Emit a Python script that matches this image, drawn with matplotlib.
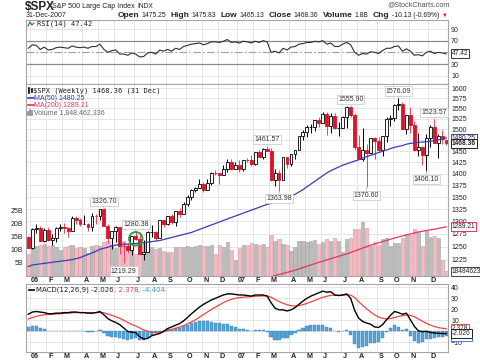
import numpy as np
import pandas as pd
import matplotlib
matplotlib.use("Agg")
import matplotlib.pyplot as plt
from matplotlib.lines import Line2D
from matplotlib.ticker import FixedLocator, NullLocator, FuncFormatter
import matplotlib.transforms as mtrans

plt.rcParams['font.family'] = ['Liberation Sans', 'DejaVu Sans']

# ---------------- data ----------------
dates = list(pd.date_range('2005-12-30', periods=105, freq='W-FRI')) + [pd.Timestamp('2007-12-31')]
prev_close0 = 1268.66

opens = [1268.7, 1248.3, 1285.4, 1287.6, 1261.5, 1283.7, 1264.0, 1267.0, 1287.2, 1289.4,
         1287.2, 1281.4, 1307.3, 1303.0, 1294.8, 1295.5, 1289.1, 1311.3, 1310.6, 1325.8,
         1291.2, 1267.0, 1280.2, 1288.2, 1252.3, 1251.5, 1244.5, 1270.2, 1265.5, 1236.2,
         1240.3, 1278.6, 1279.4, 1266.7, 1302.3, 1295.1, 1311.0, 1298.9, 1321.2, 1314.8,
         1335.9, 1349.6, 1365.6, 1368.6, 1377.3, 1364.3, 1380.9, 1401.2, 1401.0, 1396.7,
         1409.8, 1427.1, 1410.8, 1418.3, 1409.7, 1430.7, 1430.5, 1422.2, 1448.4, 1438.1,
         1455.5, 1451.2, 1387.2, 1402.8, 1387.0, 1436.1, 1420.9, 1443.8, 1452.9, 1484.4,
         1494.1, 1505.6, 1505.9, 1522.8, 1515.7, 1536.3, 1507.7, 1532.9, 1502.6, 1503.4,
         1530.4, 1552.5, 1534.1, 1459.0, 1433.1, 1453.6, 1445.9, 1479.4, 1474.0, 1453.6,
         1484.3, 1525.8, 1526.8, 1557.6, 1561.8, 1500.6, 1535.3, 1509.7, 1453.7, 1458.7,
         1440.7, 1481.1, 1504.7, 1468.0, 1484.5, 1475.25]
highs = [1271.8, 1286.1, 1294.9, 1290.8, 1286.4, 1287.9, 1274.0, 1289.5, 1294.2, 1297.6,
         1288.2, 1310.9, 1310.2, 1306.2, 1314.1, 1296.0, 1318.2, 1316.0, 1326.5, 1326.70,
         1294.8, 1280.5, 1290.7, 1288.2, 1258.6, 1258.1, 1271.0, 1280.38, 1274.1, 1262.6,
         1280.0, 1292.9, 1280.8, 1302.3, 1302.3, 1312.0, 1314.7, 1321.4, 1328.5, 1340.3,
         1353.8, 1366.6, 1372.7, 1389.5, 1381.9, 1388.6, 1403.8, 1407.9, 1401.5, 1418.3,
         1431.6, 1431.8, 1427.0, 1429.4, 1431.2, 1435.1, 1441.6, 1449.3, 1452.0, 1457.7,
         1461.57, 1456.9, 1409.9, 1409.0, 1437.7, 1437.0, 1444.9, 1453.1, 1484.7, 1498.0,
         1510.3, 1513.8, 1522.8, 1529.3, 1540.6, 1540.5, 1538.7, 1540.0, 1517.5, 1532.4,
         1555.1, 1555.90, 1539.0, 1488.3, 1503.9, 1466.3, 1479.4, 1481.5, 1481.5, 1485.0,
         1530.0, 1533.7, 1561.6, 1576.09, 1564.7, 1535.3, 1552.8, 1520.2, 1492.1, 1462.2,
         1488.9, 1510.1, 1523.57, 1489.0, 1498.9, 1475.83]
lows = [1248.0, 1245.7, 1277.6, 1261.0, 1259.4, 1261.0, 1253.6, 1258.3, 1280.9, 1277.4,
        1269.3, 1281.4, 1295.8, 1291.1, 1294.2, 1280.7, 1280.7, 1295.6, 1303.3, 1291.2,
        1256.6, 1245.3, 1259.0, 1235.2, 1219.29, 1237.2, 1233.3, 1263.8, 1235.6, 1224.5,
        1240.1, 1269.0, 1261.9, 1266.7, 1289.4, 1293.9, 1294.5, 1291.4, 1308.9, 1314.8,
        1331.2, 1343.6, 1360.1, 1368.6, 1360.7, 1364.3, 1375.0, 1397.0, 1377.8, 1396.7,
        1404.8, 1407.8, 1410.4, 1403.97, 1405.4, 1425.6, 1416.6, 1420.4, 1437.4, 1433.3,
        1450.5, 1384.5, 1373.6, 1363.98, 1386.9, 1411.9, 1416.4, 1433.3, 1452.9, 1476.7,
        1482.3, 1491.4, 1495.6, 1505.2, 1514.2, 1487.4, 1492.7, 1502.0, 1484.2, 1503.4,
        1503.7, 1529.4, 1454.0, 1432.0, 1427.4, 1370.60, 1445.6, 1432.0, 1449.5, 1439.3,
        1471.8, 1507.1, 1521.0, 1546.7, 1500.3, 1489.6, 1492.9, 1451.1, 1438.5, 1419.3,
        1406.10, 1460.7, 1467.8, 1435.7, 1467.0, 1465.13]
closes = [1248.29, 1285.45, 1287.61, 1261.49, 1283.72, 1264.03, 1266.99, 1287.24, 1289.43, 1287.23,
          1281.42, 1307.25, 1302.95, 1294.83, 1295.50, 1289.12, 1311.28, 1310.61, 1325.76, 1291.24,
          1267.03, 1280.16, 1288.22, 1252.30, 1251.54, 1244.50, 1270.20, 1265.48, 1236.20, 1240.29,
          1278.55, 1279.36, 1266.74, 1302.30, 1295.09, 1311.01, 1298.92, 1321.18, 1314.78, 1335.85,
          1349.59, 1365.62, 1368.60, 1377.34, 1364.30, 1380.90, 1401.20, 1400.95, 1396.71, 1409.84,
          1427.09, 1410.76, 1418.30, 1409.71, 1430.73, 1430.50, 1422.18, 1448.39, 1438.06, 1455.54,
          1451.19, 1387.17, 1402.84, 1386.95, 1436.11, 1420.86, 1443.76, 1452.85, 1484.35, 1494.07,
          1505.62, 1505.85, 1522.75, 1515.73, 1536.34, 1507.67, 1532.91, 1502.56, 1503.35, 1530.44,
          1552.50, 1534.10, 1458.95, 1433.06, 1453.64, 1445.94, 1479.37, 1473.99, 1453.55, 1484.25,
          1525.75, 1526.75, 1557.59, 1561.80, 1500.63, 1535.28, 1509.65, 1453.70, 1458.74, 1440.70,
          1481.14, 1504.66, 1467.95, 1484.46, 1478.49, 1468.36]
volumes_b = [8.5, 10.5, 11.5, 11.8, 12.3, 11.5, 11.8, 11.2, 9.8, 11.0,
             11.3, 11.9, 10.8, 11.0, 10.5, 8.6, 11.5, 11.8, 11.6, 12.8,
             13.2, 12.0, 10.5, 12.8, 13.5, 11.8, 10.5, 8.5, 11.8, 12.6,
             11.9, 11.0, 10.4, 10.8, 9.6, 9.2, 9.0, 11.2, 10.9, 11.0,
             11.5, 11.2, 11.6, 11.9, 11.3, 11.4, 11.8, 8.3, 11.7, 11.2,
             12.9, 10.0, 6.0, 10.5, 12.0, 11.7, 12.6, 12.4, 12.0, 12.3,
             11.0, 15.5, 13.5, 14.0, 12.4, 12.0, 9.5, 11.0, 13.2, 13.5,
             13.0, 13.2, 13.8, 12.2, 12.8, 14.0, 13.5, 14.5, 13.5, 9.0,
             14.0, 14.5, 17.8, 18.0, 20.5, 18.5, 11.5, 13.0, 12.0, 14.0,
             14.5, 11.5, 12.5, 12.6, 14.5, 16.0, 15.5, 17.8, 16.8, 11.5,
             17.0, 15.0, 15.3, 14.5, 6.0, 1.848]
ma50 = [1212, 1215, 1216, 1217, 1218, 1219, 1220, 1221, 1222, 1223,
        1224, 1225, 1227, 1229, 1232, 1235, 1238, 1241, 1245, 1247,
        1249, 1252, 1253, 1254, 1255, 1255, 1256, 1256, 1257, 1258,
        1259, 1260, 1261, 1262, 1264, 1266, 1268, 1270, 1272, 1274,
        1276, 1278, 1281, 1284, 1287, 1290, 1293, 1296, 1299, 1302,
        1305, 1308, 1311, 1314, 1317, 1320, 1323, 1326, 1329, 1332,
        1335, 1337, 1340, 1343, 1346, 1349, 1352, 1356, 1361, 1366,
        1372, 1378, 1384, 1390, 1396, 1402, 1407, 1411, 1415, 1419,
        1422, 1425, 1428, 1431, 1435, 1438, 1441, 1444, 1447, 1450,
        1453, 1456, 1459, 1461, 1463, 1466, 1468, 1469, 1470, 1471,
        1472, 1473, 1474, 1476, 1478, 1480.25]
ma200 = [np.nan] * 60 + [
        1191, 1193, 1195, 1197, 1199, 1201, 1203, 1205, 1207.5, 1210,
        1212.5, 1215, 1217.5, 1220, 1222.3, 1224.6, 1226.9, 1229.2, 1231.5, 1233.8,
        1236, 1238.8, 1241.6, 1244.4, 1247.2, 1250, 1253, 1255.3, 1257.6, 1259.9,
        1262.2, 1264.5, 1266.8, 1269, 1271, 1273, 1275, 1277, 1279, 1280.4,
        1281.8, 1283.2, 1284.6, 1286, 1287.6, 1289.21]
rsi = [57, 63, 62, 55, 59, 54, 55, 58, 59, 58,
       57, 61, 59, 58, 59, 57, 60, 60, 64, 55,
       50, 53, 54, 47, 47, 45, 49, 47, 42, 43,
       49, 50, 47, 54, 52, 55, 52, 57, 55, 60,
       62, 64, 65, 66, 63, 65, 68, 68, 67, 69,
       72, 67, 68, 66, 69, 68, 66, 69, 67, 70,
       68, 50, 52, 49, 57, 54, 59, 60, 64, 65,
       67, 67, 69, 68, 70, 64, 66, 60, 60, 64,
       67, 63, 50, 45, 48, 47, 51, 50, 48, 53,
       57, 57, 60, 61, 52, 56, 52, 45, 46, 44,
       50, 52, 48, 50, 49, 47.42]
macd = [15.5, 17.5, 18, 17.5, 17, 16, 16, 16.5, 16.5, 17,
        17, 17.5, 17.5, 17, 17, 16.5, 16.5, 17, 18, 15,
        11.5, 9.5, 8, 6, 3, -0.2, -0.8, -1.2, -5, -7,
        -6.5, -4, -3, -2, 0, 2.5, 4, 5.5, 7, 9.5,
        12.5, 16, 19, 22, 24.5, 26.5, 28.5, 30, 31.5, 33,
        34, 34, 33.5, 33, 33, 32.5, 32, 33, 33, 33,
        32, 26, 21, 19.5, 19.5, 18.5, 19.5, 21.5, 24.5, 27.5,
        30, 32, 33.5, 35, 36.5, 35.5, 36, 33, 32.5, 33,
        34, 30, 19, 12, 9, 7.5, 6.5, 4, 3.5, 6,
        10.5, 14.5, 18, 17, 15.5, 16.5, 10.5, 4.5, 0.5, -0.3,
        0, -1, -1.5, -1.8, -2, -2.026]
signal = [11.2, 12.5, 13.5, 14.5, 15, 15.3, 15.5, 15.8, 16, 16.3,
          16.5, 16.8, 17, 17, 17, 17, 17, 17, 17.2, 16.8,
          15.8, 14.5, 13.2, 11.8, 10, 8, 6.3, 4.8, 3, 1.3,
          0, -0.8, -1.2, -1.0, -0.3, 0.6, 1.6, 2.7, 3.8, 5,
          6.8, 8.5, 10.5, 12.8, 15.2, 17.5, 19.8, 22, 24, 26,
          27.7, 29, 30, 30.6, 31, 31.3, 31.5, 31.8, 32, 32.2,
          32.2, 31, 29, 27, 25.5, 24.2, 23.3, 23, 23.3, 24.2,
          25.4, 26.7, 28.1, 29.5, 30.9, 31.8, 32.7, 32.8, 32.8, 32.9,
          33.1, 32.9, 30.8, 27, 23.5, 20.5, 17.5, 15, 13, 11.8,
          11.2, 11.5, 12.5, 13.5, 14.2, 14.8, 14.5, 13.3, 11.3, 9.2,
          7.3, 5.7, 4.4, 3.4, 2.8, 2.378]
price_ticks = [1225, 1250, 1275, 1300, 1325, 1350, 1375, 1400, 1425, 1450,
               1475, 1500, 1525, 1550, 1575, 1600]
vol_ticks = [5, 10, 15, 20, 25]
rsi_ticks = [10, 30, 70, 90]
macd_ticks = [-10, 10, 20, 30, 40]
peak_bars = [19, 24, 27, 60, 63, 81, 85, 93, 100, 102]
peak_kind = ['H', 'L', 'H', 'H', 'L', 'H', 'L', 'H', 'L', 'H']
circled_bar = 27

# ---------------- figure ----------------
W, H = 480, 363
fig = plt.figure(figsize=(W / 100, H / 100), dpi=100)
fig.patch.set_facecolor('white')
L, R = 26, 448


def rect(top, bottom):
    return [L / W, 1 - bottom / H, (R - L) / W, (bottom - top) / H]


n = len(closes)
x = np.arange(n)
XLIM = (-0.58, 105.45)
GRID = '#e2e2e2'
SPINE = '#a6a6a6'
RED = '#e0112b'
TXT = '#222222'
month_idx = [i for i in range(1, n) if dates[i].month != dates[i - 1].month]


def style(ax, grid_v=True):
    ax.set_xlim(*XLIM)
    for s in ax.spines.values():
        s.set_color(SPINE)
        s.set_linewidth(0.8)
    ax.tick_params(axis='x', bottom=False, labelbottom=False)
    ax.tick_params(axis='y', length=0, labelsize=5, pad=2.2, colors=TXT)
    if grid_v:
        for i in month_idx:
            ax.axvline(i - 0.45, color=GRID, lw=0.6, zorder=0)


def tag(ax, yval, text, ec, bold=False, z=10):
    ax.text(1.009, yval, text, transform=ax.get_yaxis_transform(), fontsize=4.8,
            fontweight='bold' if bold else 'normal', va='center', ha='left', color=TXT,
            bbox=dict(boxstyle='square,pad=0.15', fc='white', ec=ec, lw=0.7),
            clip_on=False, zorder=z)


# ---- RSI panel ----
ax_r = fig.add_axes(rect(20, 84))
style(ax_r)
ax_r.set_ylim(-4.3, 105.5)
ax_r.yaxis.tick_right()
ax_r.set_yticks(rsi_ticks)
for v in (10, 90):
    ax_r.axhline(v, color=GRID, lw=0.6, zorder=0)
for v in (30, 70):
    ax_r.axhline(v, color='#8c8c8c', lw=0.9, zorder=1)
ax_r.axhline(50, color='#a0a0a0', lw=0.8, ls=(0, (7, 2, 1.5, 2)), zorder=1)
ax_r.plot(x, rsi, color='#303030', lw=0.8, zorder=3)
tag(ax_r, rsi[-1], f'{rsi[-1]:.2f}', '#333333')

# ---- Volume (background) ----
ax_v = fig.add_axes(rect(84, 276))
style(ax_v)
ax_v.set_ylim(0, 73.3)
ax_v.yaxis.tick_left()
ax_v.set_yticks(vol_ticks)
ax_v.set_yticklabels([f'{v}B' for v in vol_ticks])
prev = [prev_close0] + closes[:-1]
down = [c < p for c, p in zip(closes, prev)]
vface = ['#f3bcc4' if d else '#bcbcbc' for d in down]
vedge = ['#e2929e' if d else '#a2a2a2' for d in down]
ax_v.bar(x, volumes_b, width=0.8, color=vface, edgecolor=vedge, lw=0.4, zorder=2)

# ---- Price (overlay, log) ----
ax_p = fig.add_axes(rect(84, 276))
ax_p.patch.set_visible(False)
style(ax_p, grid_v=False)
for s in ax_p.spines.values():
    s.set_visible(False)
ax_p.set_yscale('log')
ax_p.set_ylim(1194.3, 1610)
ax_p.yaxis.set_major_locator(FixedLocator(price_ticks))
ax_p.yaxis.set_minor_locator(NullLocator())
ax_p.yaxis.set_major_formatter(FuncFormatter(lambda v, p: f'{v:.0f}'))
ax_p.yaxis.tick_right()
ax_p.tick_params(axis='y', which='both', length=0)
for v in price_ticks:
    ax_v.add_line(Line2D([0, 1], [v, v], transform=ax_p.get_yaxis_transform(),
                         color=GRID, lw=0.6, zorder=0))

ccol = [RED if d else 'black' for d in down]
wcol = ['#e8485f' if d else 'black' for d in down]
ax_p.vlines(x, lows, highs, colors=wcol, lw=0.7, zorder=3)
bottoms = [min(o, c) for o, c in zip(opens, closes)]
heights = [max(abs(c - o), 0.6) for o, c in zip(opens, closes)]
faces = ['white' if c >= o else col for o, c, col in zip(opens, closes, ccol)]
ax_p.bar(x, heights, bottom=bottoms, width=0.72, color=faces, edgecolor=ccol, lw=0.6, zorder=4)
ax_p.plot(x, ma50, color='#3c3cb4', lw=0.9, zorder=5)
ax_p.plot(x, ma200, color='#e8335a', lw=0.9, zorder=5)

for b, k in zip(peak_bars, peak_kind):
    v = highs[b] if k == 'H' else lows[b]
    off = 4.8 if k == 'H' else -6.0
    ax_p.annotate(f'{v:.2f}', xy=(b, v), xytext=(0, off), textcoords='offset points',
                  ha='center', va='center', fontsize=5, color='#333333', zorder=8,
                  bbox=dict(boxstyle='square,pad=0.15', fc='white', ec='#c4c4c4', lw=0.5),
                  arrowprops=dict(arrowstyle='-', color='#b0b0b0', lw=0.5, shrinkA=0, shrinkB=0))
ax_p.scatter([circled_bar], [closes[circled_bar]], s=95, facecolors='none',
             edgecolors='#22a52a', linewidths=1.3, zorder=9)

tag(ax_p, 1289.21, '1289.21', '#e8335a')
tag(ax_v, volumes_b[-1], '1848462336', '#444444')
tag(ax_p, ma50[-1], f'{ma50[-1]:.2f}', '#3c3cb4')
tag(ax_p, closes[-1], f'{closes[-1]:.2f}', '#222222', bold=True, z=11)

# ---- MACD panel ----
ax_m = fig.add_axes(rect(284, 352))
style(ax_m)
ax_m.set_ylim(-18.8, 43)
ax_m.yaxis.tick_right()
ax_m.set_yticks(macd_ticks)
for v in (-10, 0, 10, 20, 30, 40):
    ax_m.axhline(v, color=GRID, lw=0.6, zorder=0)
hist = np.array(macd) - np.array(signal)
ax_m.bar(x, hist, width=0.8, color='#55a3d6', edgecolor='#3b82b5', lw=0.3, zorder=2)
ax_m.plot(x, signal, color='#f24444', lw=0.9, zorder=3)
ax_m.plot(x, macd, color='black', lw=1.0, zorder=4)
tag(ax_m, signal[-1], f'{signal[-1]:.3f}', '#f24444')
tag(ax_m, hist[-1], f'{hist[-1]:.3f}', '#3b82d5')
tag(ax_m, macd[-1], f'{macd[-1]:.3f}', '#222222', z=11)

# ---- month labels ----
for ax, ypx in ((ax_p, 281), (ax_m, 356.5)):
    tr = mtrans.blended_transform_factory(ax.transData, fig.transFigure)
    for i in month_idx:
        d = dates[i]
        lab = d.strftime('%y') if d.month == 1 else d.strftime('%b')[0]
        fig.text(i + 0.6, 1 - ypx / H, lab, transform=tr, ha='center', va='center',
                 fontsize=5.2, fontweight='bold', color=TXT)

# ---- texts ----
renderer = fig.canvas.get_renderer()


def ftext(xp, yp, s, **kw):
    kw.setdefault('va', 'center')
    kw.setdefault('ha', 'left')
    kw.setdefault('color', TXT)
    return fig.text(xp / W, 1 - yp / H, s, **kw)


def chain(x0, yp, pieces):
    xx = x0
    for s, kw, gap in pieces:
        t = ftext(xx, yp, s, **kw)
        xx += t.get_window_extent(renderer).width + gap
    return xx


ftext(25, 7, '$SPX', fontsize=8.5, fontweight='bold')
chain(52, 7, [('S&P 500 Large Cap Index', dict(fontsize=5.1), 3),
              ('INDX', dict(fontsize=4.8), 0)])
ftext(450, 5, '@StockCharts.com', fontsize=5.2, ha='right', color='#555555')
ftext(26, 15.5, '31-Dec-2007', fontsize=5.0)
B = dict(fontsize=6.0, fontweight='bold')
N = dict(fontsize=4.9)
chain(118, 15.5, [('Open', B, 2), ('1475.25', N, 4.5), ('High', B, 2), ('1475.83', N, 4.5),
                  ('Low', B, 2), ('1465.13', N, 4.5), ('Close', B, 2), ('1468.36', N, 4.5),
                  ('Volume', B, 2), ('1.8B', N, 4.5), ('Chg', B, 2), ('-10.13 (-0.69%)', N, 3),
                  ('▼', dict(fontsize=4.2, color=RED), 0)])

mono = dict(family='DejaVu Sans Mono', fontsize=5.0)
ftext(37, 24, f'RSI(14) {rsi[-1]:.2f}', **mono)
fig.add_artist(Line2D([28 / W, 30 / W, 32 / W, 34 / W], [1 - 26 / H, 1 - 22 / H, 1 - 25 / H, 1 - 23 / H],
                      color='#2a7a2a', lw=0.8))

ftext(33, 90.5, f'$SPX (Weekly) {closes[-1]:.2f} (31 Dec)', **mono)
fig.add_artist(Line2D([29 / W, 29 / W], [1 - 93 / H, 1 - 88 / H], color='black', lw=1.2))
fig.add_artist(Line2D([31.5 / W, 31.5 / W], [1 - 92 / H, 1 - 89 / H], color='black', lw=1.2))
fig.add_artist(Line2D([28 / W, 33.5 / W], [1 - 98 / H, 1 - 98 / H], color='#3c3cb4', lw=1.2))
ftext(34, 98, f'MA(50) {ma50[-1]:.2f}', fontsize=5.0, color='#3c3cb4')
fig.add_artist(Line2D([28 / W, 33.5 / W], [1 - 105.3 / H, 1 - 105.3 / H], color='#e8335a', lw=1.2))
ftext(34, 105.3, f'MA(200) {ma200[-1]:.2f}', fontsize=5.0, color='#e8335a')
for k, hh in enumerate((3, 5, 4)):
    xx = (28 + 1.8 * k) / W
    fig.add_artist(Line2D([xx, xx], [1 - 115 / H, 1 - (115 - hh) / H], color='#888888', lw=1.2))
ftext(34.5, 112.7, 'Volume 1,848,462,336', fontsize=5.0, color='#666666')

fig.add_artist(Line2D([29 / W, 34 / W], [1 - 290 / H, 1 - 290 / H], color='black', lw=1.2))
chain(36, 290, [(f'MACD(12,26,9) {macd[-1]:.3f}', dict(fontsize=5.0, family='DejaVu Sans'), 0),
                (f', {signal[-1]:.3f}', dict(fontsize=5.0, family='DejaVu Sans', color='#f24444'), 0),
                (f', {hist[-1]:.3f}', dict(fontsize=5.0, family='DejaVu Sans', color='#3b9ad9'), 0)])

fig.savefig('out.png', dpi=100, facecolor='white')
